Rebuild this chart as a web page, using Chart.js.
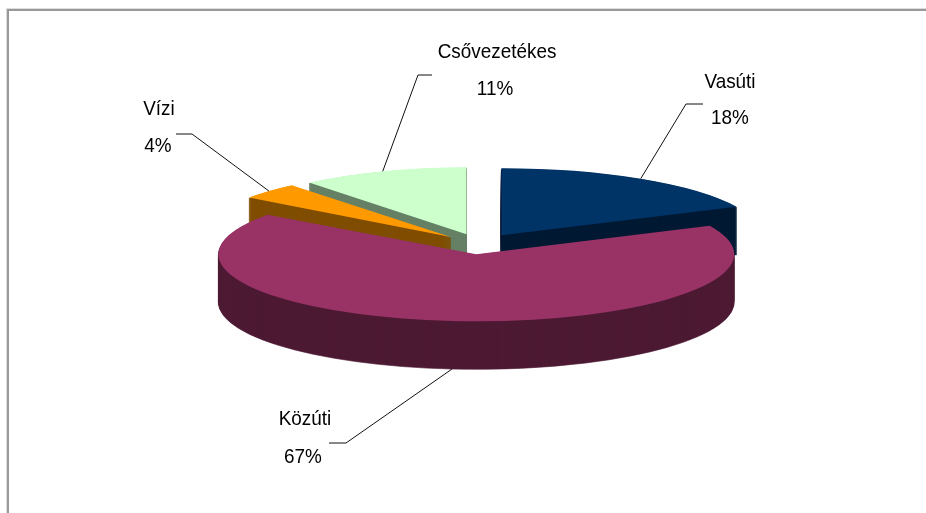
<!DOCTYPE html>
<html>
<head>
<meta charset="utf-8">
<script src="https://cdn.jsdelivr.net/npm/chart.js@4"></script>
<style>
    html, body { margin: 0; padding: 0; background: #fff; overflow: hidden; }
    #frame { position: absolute; left: 7px; top: 9px; right: -5px; bottom: -5px; border-left: 2px solid #999; border-top: 2px solid #999; box-shadow: -1px -1px 0 #ddd; }
    canvas { position: absolute; left: 0; top: 0; }
</style>
</head>
<body>
<div id="frame"></div>
<canvas id="chart" width="926" height="513"></canvas>
<script>
const categories = ['Vasúti', 'Közúti', 'Vízi', 'Csővezetékes'];
const shares = [18, 67, 4, 11];
const topColors = ['#003366', '#993366', '#FF9900', '#CCFFCC'];
const sideColors = ['#001933', '#4D1A33', '#804D00', '#668066'];

// Where each callout sits: name line, percent line, elbow of the leader, end of the leader
const labelSpots = [
    {name: [730, 82], pct: [730, 118], elbow: [686, 104], end: [703, 104]},
    {name: [305, 419], pct: [303, 457], elbow: [346, 443], end: [329, 443]},
    {name: [159, 109], pct: [158, 146], elbow: [192, 134], end: [176, 134]},
    {name: [497, 52], pct: [495, 89], elbow: [418, 75], end: [432, 75]},
];

// Tilted pie: the library lays out a flat circle, this squashes and extrudes it
const centerX = 480;
const centerY = 244;
const squash = 0.258;
const explode = 40;
const depth = 48;
// the original's perspective makes some slices a bit narrower
const narrowing = [1, 0.992, 0.96, 0.95];

function paintArc(ctx, arc, i, color, down) {
    const mid = (arc.startAngle + arc.endAngle) / 2;
    const keep = arc.options;
    ctx.save();
    ctx.translate(centerX + Math.cos(mid) * explode, centerY + down + Math.sin(mid) * explode * squash);
    ctx.scale(narrowing[i], squash);
    ctx.translate(-arc.x, -arc.y);
    // the walls get a same colour border so the stacked edges don't streak
    arc.options = down > 0
        ? {...keep, backgroundColor: color, borderColor: color, borderWidth: 1}
        : {...keep, backgroundColor: color};
    arc.draw(ctx);
    arc.options = keep;
    ctx.restore();
}

function drawText(ctx, text, x, y) {
    // the original's type is tall and slightly condensed
    ctx.save();
    ctx.translate(x, y);
    ctx.scale(0.9, 1);
    ctx.fillText(text, 0, 0);
    ctx.restore();
}

const tiltedPie = {
    id: 'tiltedPie',
    beforeDatasetsDraw(chart) {
        const ctx = chart.ctx;
        const arcs = chart.getDatasetMeta(0).data;
        const order = arcs.map((arc, i) => i).sort((a, b) => {
            const midA = (arcs[a].startAngle + arcs[a].endAngle) / 2;
            const midB = (arcs[b].startAngle + arcs[b].endAngle) / 2;
            return Math.sin(midA) - Math.sin(midB);
        });

        order.forEach(i => {
            for (let d = depth; d > 0; d--) {
                paintArc(ctx, arcs[i], i, sideColors[i], d);
            }
            paintArc(ctx, arcs[i], i, topColors[i], 0);
        });

        // leaders start on the outer rim of their slice
        const total = shares.reduce((a, b) => a + b, 0);
        ctx.save();
        arcs.forEach((arc, i) => {
            const spot = labelSpots[i];
            const mid = (arc.startAngle + arc.endAngle) / 2;
            const rimX = centerX + Math.cos(mid) * (explode + arc.outerRadius * narrowing[i]);
            const rimY = centerY + Math.sin(mid) * (explode + arc.outerRadius) * squash + (Math.sin(mid) > 0 ? depth : 0);

            ctx.strokeStyle = '#111';
            ctx.lineWidth = 1;
            ctx.beginPath();
            ctx.moveTo(rimX, rimY);
            ctx.lineTo(spot.elbow[0], spot.elbow[1]);
            ctx.lineTo(spot.end[0], spot.end[1]);
            ctx.stroke();

            ctx.fillStyle = '#000';
            ctx.font = '21px "Liberation Sans"';
            ctx.textAlign = 'center';
            ctx.textBaseline = 'middle';
            drawText(ctx, categories[i], spot.name[0], spot.name[1]);
            drawText(ctx, Math.round(shares[i] / total * 100) + '%', spot.pct[0], spot.pct[1]);
        });
        ctx.restore();
        return false;
    }
};

new Chart(document.getElementById('chart').getContext('2d'), {
    type: 'pie',
    data: {
        labels: categories,
        datasets: [{
            data: shares,
            backgroundColor: topColors,
            borderWidth: 0
        }]
    },
    options: {
        responsive: false,
        animation: false,
        radius: 260,
        plugins: {
            legend: {display: false},
            tooltip: {enabled: false}
        }
    },
    plugins: [tiltedPie]
});
</script>
</body>
</html>
